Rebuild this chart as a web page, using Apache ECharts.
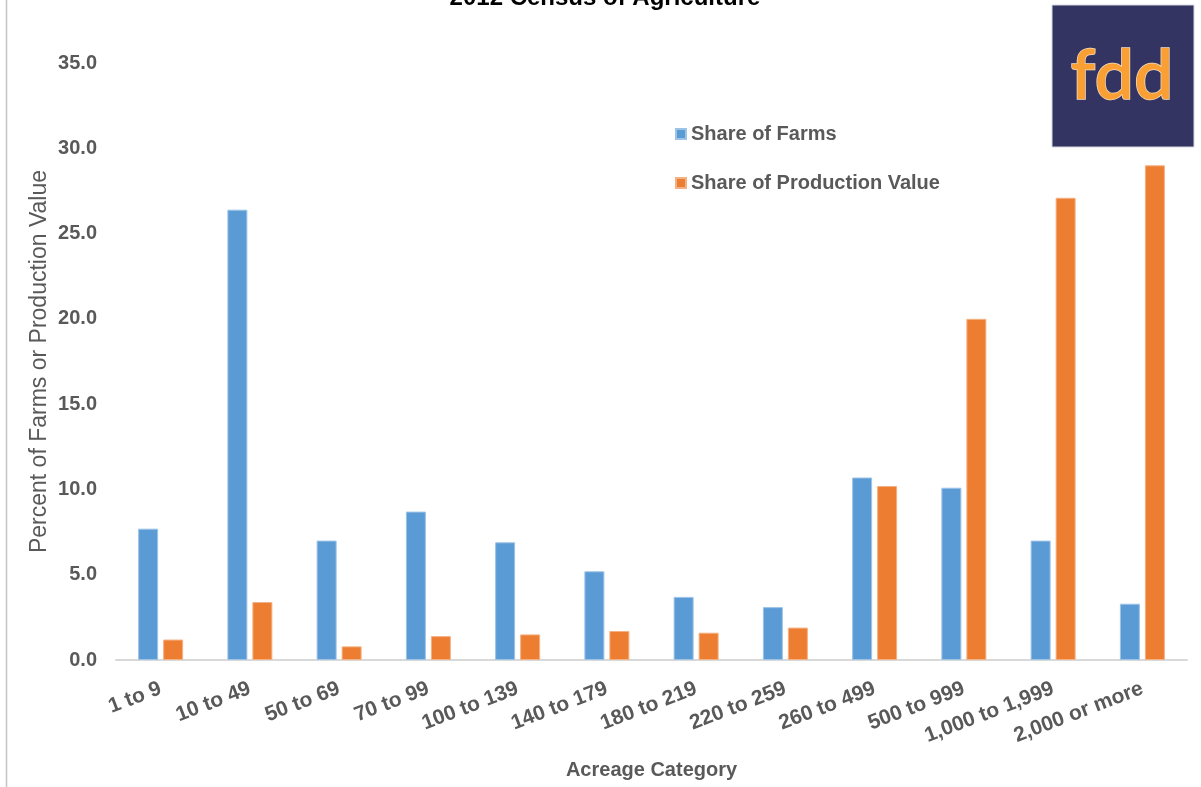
<!DOCTYPE html>
<html>
<head>
<meta charset="utf-8">
<style>
  html, body { margin: 0; padding: 0; background: #ffffff; }
  #chart { width: 1201px; height: 787px; }
</style>
<script src="https://cdn.jsdelivr.net/npm/echarts@6/dist/echarts.min.js"></script>
</head>
<body>
<div id="chart"></div>
<script>
// Farm size classes (acres)
const categories = ['1 to 9', '10 to 49', '50 to 69', '70 to 99', '100 to 139', '140 to 179',
  '180 to 219', '220 to 259', '260 to 499', '500 to 999', '1,000 to 1,999', '2,000 or more'];
// Percent of all farms in each class
const shareOfFarms = [7.7, 26.4, 7.0, 8.7, 6.9, 5.2, 3.7, 3.1, 10.7, 10.1, 7.0, 3.3];
// Percent of total production value in each class
const shareOfProductionValue = [1.2, 3.4, 0.8, 1.4, 1.5, 1.7, 1.6, 1.9, 10.2, 20.0, 27.1, 29.0];

const seriesNames = ['Share of Farms', 'Share of Production Value'];
const titleText = '2012 Census of Agriculture';

const textGray = '#595959';
const fontFamily = '"Liberation Sans", Arial, sans-serif';

const chart = echarts.init(document.getElementById('chart'), null, { renderer: 'canvas' });

chart.setOption({
  backgroundColor: '#ffffff',
  animation: false,
  textStyle: { fontFamily: fontFamily },
  grid: { left: 116, right: 14, top: 63, bottom: 127, containLabel: false },
  legend: {
    orient: 'vertical',
    left: 670,
    top: 119,
    itemWidth: 10,
    itemHeight: 10,
    itemGap: 29,
    icon: 'rect',
    data: seriesNames,
    textStyle: { color: textGray, fontSize: 20, fontWeight: 'bold', fontFamily: fontFamily }
  },
  xAxis: {
    type: 'category',
    data: categories,
    name: 'Acreage Category',
    nameLocation: 'middle',
    nameGap: 100,
    nameMoveOverlap: false,
    nameTextStyle: { color: textGray, fontSize: 20, fontWeight: 'bold', fontFamily: fontFamily },
    axisLine: { show: true, lineStyle: { color: '#d9d9d9', width: 2 } },
    axisTick: { show: false },
    axisLabel: {
      interval: 0,
      rotate: 21,
      margin: 28,
      color: textGray,
      fontSize: 21,
      fontWeight: 'bold',
      fontFamily: fontFamily
    },
    splitLine: { show: false }
  },
  yAxis: {
    type: 'value',
    min: 0,
    max: 35,
    interval: 5,
    name: 'Percent of Farms or Production Value',
    nameLocation: 'middle',
    nameGap: 65,
    nameMoveOverlap: false,
    nameTextStyle: { color: textGray, fontSize: 23, fontFamily: fontFamily },
    axisLine: { show: false },
    axisTick: { show: false },
    splitLine: { show: false },
    axisLabel: {
      margin: 19,
      color: textGray,
      fontSize: 20,
      fontWeight: 'bold',
      fontFamily: fontFamily,
      formatter: function (v) { return v.toFixed(1); }
    }
  },
  series: [
    {
      name: seriesNames[0],
      type: 'bar',
      data: shareOfFarms,
      barWidth: 20,
      barGap: '25%',
      itemStyle: { color: '#5b9bd5', borderColor: '#9dc3e6', borderWidth: 1 }
    },
    {
      name: seriesNames[1],
      type: 'bar',
      data: shareOfProductionValue,
      barWidth: 20,
      barGap: '25%',
      itemStyle: { color: '#ed7d31', borderColor: '#f4b183', borderWidth: 1 }
    }
  ],
  graphic: [
    // thin frame line on the left edge
    {
      type: 'line',
      shape: { x1: 6.5, y1: 0, x2: 6.5, y2: 787 },
      style: { stroke: '#c4c4c4', lineWidth: 1.5 },
      silent: true
    },
    // title, partly above the top edge
    {
      type: 'text',
      style: {
        x: 605,
        y: 10,
        text: titleText,
        textAlign: 'center',
        textVerticalAlign: 'bottom',
        font: 'bold 24px ' + fontFamily,
        fill: '#000000'
      },
      silent: true
    },
    // logo block
    {
      type: 'rect',
      shape: { x: 1052, y: 5, width: 142, height: 142 },
      style: { fill: '#333461', stroke: '#d6d6e0', lineWidth: 1 },
      silent: true
    },
    {
      type: 'text',
      style: {
        x: 1122,
        y: 76,
        text: 'fdd',
        textAlign: 'center',
        textVerticalAlign: 'middle',
        font: '600 70px Lato, "Noto Sans", sans-serif',
        fill: '#f99f33',
        stroke: '#f3dcc0',
        lineWidth: 1.5
      },
      silent: true
    }
  ]
});
</script>
</body>
</html>
